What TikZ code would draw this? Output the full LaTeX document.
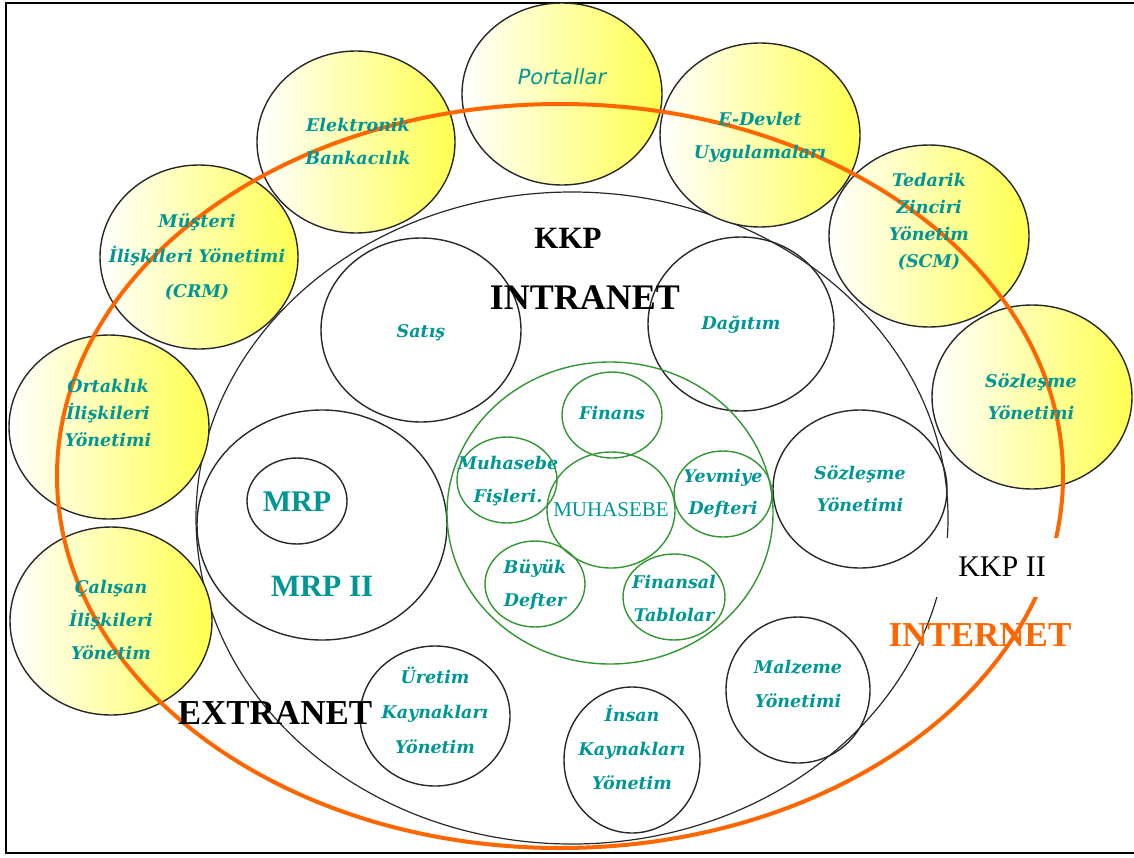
\documentclass[tikz,border=0pt]{standalone}
\usepackage{fontspec}
\setmainfont{Liberation Serif}
\newfontfamily\lblf{DejaVu Serif}
\newfontfamily\portf{DejaVu Sans}
\usetikzlibrary{shapes.geometric}
\definecolor{tealtxt}{RGB}{0,150,150}
\definecolor{orng}{RGB}{255,102,0}
\definecolor{grn}{RGB}{50,150,50}
\definecolor{ylw}{RGB}{255,255,80}
\definecolor{edge}{RGB}{40,40,40}
\tikzset{
  ring/.style={ellipse, draw=edge, line width=1.4pt, inner sep=0pt},
  yring/.style={ring, left color=white, right color=ylw},
  gring/.style={ellipse, draw=grn, line width=1.4pt, inner sep=0pt},
  lbl/.style={text=tealtxt, align=center, inner sep=0pt,
    font=\lblf\bfseries\itshape\fontsize{17.5}{#1}\selectfont},
  lbl/.default=33,
  bigword/.style={inner sep=0pt, font=\bfseries\fontsize{#1}{#1}\selectfont},
}
\begin{document}
\begin{tikzpicture}[x=1pt, y=-1pt]
\useasboundingbox (0,0) rectangle (1134,857);
% frame
\draw[line width=2.4pt] (1140,3) -- (6,3) -- (6,853) -- (1140,853);

% KKP region
\node[ring, line width=1.2pt, minimum width=752, minimum height=652] (kkp) at (572,518) {};

% outer applications
\node[yring, minimum width=198, minimum height=182] (ebank) at (356,142) {};
\node[yring, minimum width=200, minimum height=182] (portal) at (562,94) {};
\node[yring, minimum width=200, minimum height=184] (edev) at (760,135) {};
\node[yring, minimum width=198, minimum height=184] (crm) at (199,257) {};
\node[yring, minimum width=200, minimum height=182] (scm) at (929,236) {};
\node[yring, minimum width=200, minimum height=184] (ortak) at (109,427) {};
\node[yring, minimum width=200, minimum height=184] (sozy) at (1032,397) {};
\node[yring, minimum width=202, minimum height=188] (calis) at (111,621) {};

% internet boundary
\node[ellipse, draw=orng, line width=4pt, inner sep=0pt,
      minimum width=1006, minimum height=744] (net) at (560,476) {};

% KKP modules
\node[ring, minimum width=200, minimum height=184] (satis) at (421,330) {};
\node[ring, minimum width=186, minimum height=174] (dagitim) at (741,324) {};
\node[ring, minimum width=250, minimum height=230] (mrp2) at (322,525) {};
\node[ring, minimum width=100, minimum height=86] (mrp) at (297,501) {};
\node[ring, minimum width=174, minimum height=158] (sozw) at (860,489) {};
\node[ring, minimum width=150, minimum height=140] (uretim) at (435,716) {};
\node[ring, minimum width=136, minimum height=146] (insan) at (632,760) {};
\node[ring, minimum width=144, minimum height=146] (malzeme) at (798,690) {};

% accounting cluster
\node[gring, minimum width=326, minimum height=302] (acc) at (610,513) {};
\node[gring, minimum width=100, minimum height=86] (finans) at (612,415) {};
\node[gring, minimum width=128, minimum height=116] (muh) at (611,510) {};
\node[gring, minimum width=100, minimum height=86] (fis) at (507,480) {};
\node[gring, minimum width=98, minimum height=86] (yev) at (723,494) {};
\node[gring, minimum width=100, minimum height=86] (buyuk) at (535,584) {};
\node[gring, minimum width=102, minimum height=86] (fintab) at (674,597) {};

% labels of outer applications
\node[lbl] (t-ebank) at (358,141) {Elektronik\\Bankacılık};
\node[text=tealtxt, inner sep=0pt, font=\portf\itshape\fontsize{21}{21}\selectfont] (t-portal) at (562,77) {Portallar};
\node[lbl] (t-edev) at (760,137) {E-Devlet\\Uygulamaları};
\node[lbl=35] (t-crm) at (197,257) {Müşteri\\İlişkileri Yönetimi\\(CRM)};
\node[lbl=27] (t-scm) at (929,222) {Tedarik\\Zinciri\\Yönetim\\(SCM)};
\node[lbl=27] (t-ortak) at (108,413) {Ortaklık\\İlişkileri\\Yönetimi};
\node[lbl=32] (t-sozy) at (1031,397) {Sözleşme\\Yönetimi};
\node[lbl=33] (t-calis) at (111,620) {Çalışan\\İlişkileri\\Yönetim};

% labels of modules
\node[lbl] (t-satis) at (421,333) {Satış};
\node[lbl] (t-dagitim) at (741,325) {Dağıtım};
\node[lbl=32] (t-sozw) at (860,489) {Sözleşme\\Yönetimi};
\node[lbl=35] (t-uretim) at (435,710) {Üretim\\Kaynakları\\Yönetim};
\node[lbl=34] (t-insan) at (632,747) {İnsan\\Kaynakları\\Yönetim};
\node[lbl=34] (t-malzeme) at (798,684) {Malzeme\\Yönetimi};
\node[bigword=30, text=tealtxt] (t-mrp) at (297,502) {MRP};
\node[bigword=31, text=tealtxt] (t-mrp2) at (322,586) {MRP II};

% labels of accounting
\node[lbl] (t-finans) at (612,413) {Finans};
\node[lbl] (t-fis) at (508,481) {Muhasebe\\Fişleri.};
\node[text=tealtxt, inner sep=0pt, font=\fontsize{21}{21}\selectfont] (t-muh) at (611,510) {MUHASEBE};
\node[lbl=32] (t-yev) at (723,494) {Yevmiye\\Defteri};
\node[lbl] (t-buyuk) at (535,585) {Büyük\\Defter};
\node[lbl] (t-fintab) at (674,598) {Finansal\\Tablolar};

% region titles
\node[bigword=31] (t-kkp) at (568,238) {KKP};
\node[bigword=36] (t-intra) at (585,298) {INTRANET};
\node[bigword=35] (t-extra) at (275,713) {EXTRANET};
\node[bigword=35, text=orng] (t-inter) at (980,635) {INTERNET};
\node[fill=white, minimum width=140, minimum height=59, inner sep=0pt,
      font=\fontsize{30}{30}\selectfont] (kkp2) at (1002,567) {KKP II};
\end{tikzpicture}
\end{document}
